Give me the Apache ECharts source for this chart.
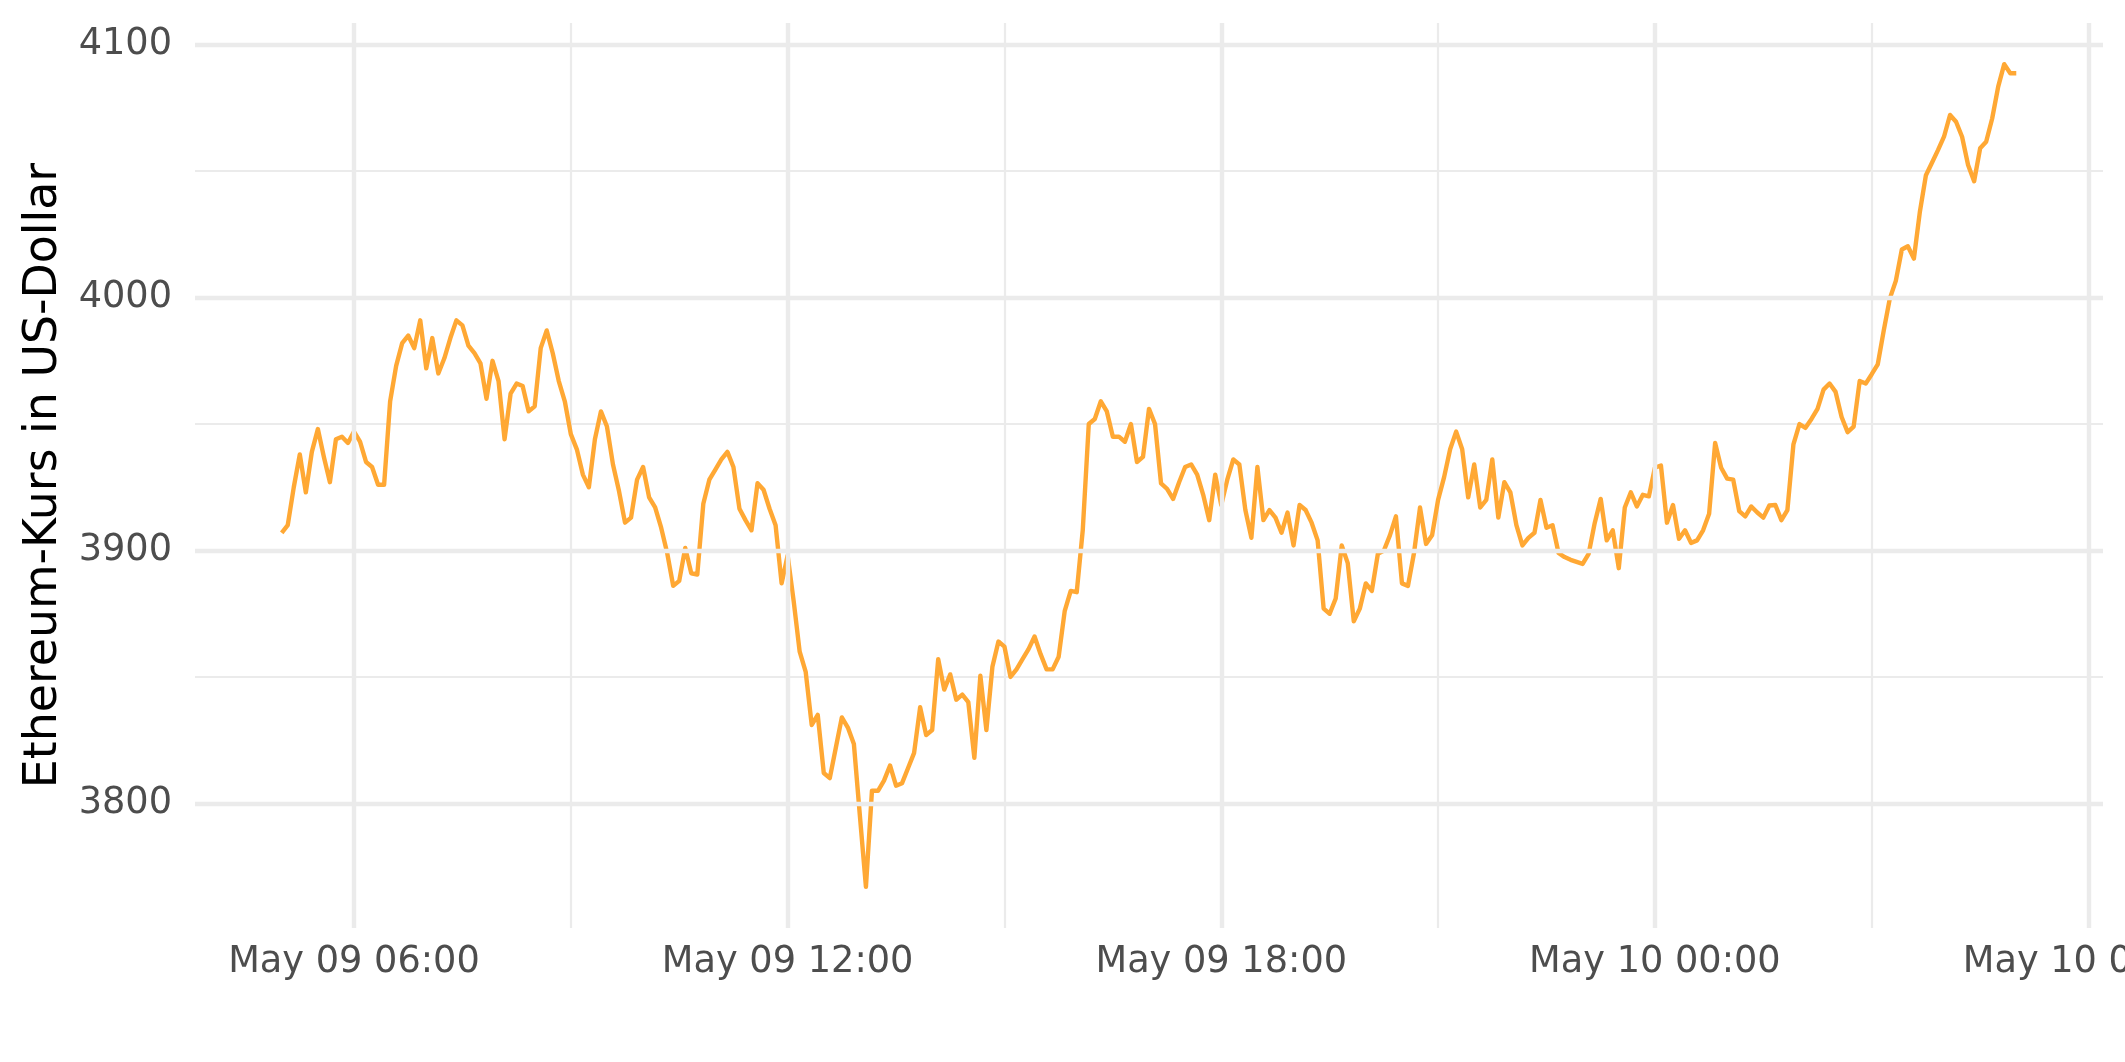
<!DOCTYPE html>
<html>
<head>
<meta charset="utf-8">
<script src="https://cdn.jsdelivr.net/npm/echarts@6/dist/echarts.min.js"></script>
<style>
html,body{margin:0;padding:0;background:#ffffff;}
#chart{width:2125px;height:1062px;}
</style>
</head>
<body>
<div id="chart"></div>
<script>
// Time base: first observation May 09 05:00, one price every 5 minutes (hours counted from May 09 00:00)
const startHour = 5;
const stepMinutes = 5;

// Ethereum price in US dollars
const prices = [
  3907, 3910, 3925, 3938, 3923, 3939, 3948, 3937, 3927, 3944,
  3945, 3942.5, 3947, 3943, 3935, 3933, 3926, 3926, 3959, 3973,
  3982, 3985, 3980, 3991, 3972, 3984, 3970, 3976, 3984, 3991,
  3989, 3981, 3978, 3974, 3960, 3975, 3967, 3944, 3962, 3966,
  3965, 3955, 3957, 3980, 3987, 3978, 3967, 3959, 3946, 3940,
  3930, 3925, 3944, 3955, 3949, 3934, 3923.5, 3911, 3913, 3928,
  3933, 3921, 3917, 3909, 3899, 3886, 3888, 3901, 3891, 3890.5,
  3918.5, 3928, 3932, 3936, 3939, 3933, 3916.5, 3912, 3908, 3926.6,
  3924, 3916.5, 3910, 3887, 3898, 3880, 3860, 3852, 3831, 3835,
  3812, 3810, 3822, 3834, 3830, 3823.5, 3795, 3767, 3805, 3805,
  3809, 3815, 3807, 3808, 3814, 3820, 3838, 3827, 3829, 3857,
  3845, 3851, 3841, 3843, 3840, 3818, 3850.5, 3829, 3854, 3864,
  3862, 3850, 3853, 3857, 3861, 3866, 3859, 3853, 3853, 3858,
  3876, 3884, 3883.5, 3908, 3950, 3952, 3959, 3955, 3945, 3945,
  3943, 3950, 3935, 3937, 3956, 3950, 3926.5, 3924.4, 3920.4, 3927,
  3933, 3934, 3930, 3922, 3912, 3930, 3918, 3928, 3936, 3934,
  3916, 3905, 3933, 3912, 3916, 3913, 3907, 3915, 3902, 3918,
  3916, 3911, 3904, 3877, 3875, 3881, 3902, 3895, 3872, 3877,
  3887, 3884, 3898.7, 3900, 3906, 3913.5, 3887, 3886, 3899, 3917,
  3902.6, 3906, 3920, 3929, 3940, 3947, 3940, 3921, 3934, 3917,
  3920, 3936, 3913, 3927, 3923, 3910, 3902, 3905, 3907, 3920,
  3909, 3910, 3899, 3897.4, 3896.3, 3895.5, 3894.7, 3898.7, 3910.8, 3920.4,
  3904, 3908, 3893, 3917, 3923, 3917.4, 3922, 3921.4, 3932.7, 3933.6,
  3911, 3918, 3904.6, 3908, 3903, 3904, 3908, 3914.5, 3942.5, 3932.7,
  3928.4, 3928, 3915.6, 3913.5, 3917.4, 3915, 3913, 3917.8, 3918, 3912,
  3916, 3942, 3950, 3948.5, 3952, 3956, 3963.6, 3966, 3962.7, 3952.8,
  3946.8, 3949, 3967, 3966, 3969.7, 3973.6, 3987, 3999.6, 4006.6, 4019,
  4020.3, 4015.4, 4034, 4048.4, 4053.3, 4058.3, 4063.6, 4072.2, 4069.5, 4063.6,
  4052.4, 4046, 4059, 4061.6, 4070.8, 4083.4, 4092.3, 4088.7, 4088.7
];

// x-axis tick positions (hours from May 09 00:00) and their labels
const xTickHours = [6, 12, 18, 24, 30];
const xTickLabels = ['May 09 06:00', 'May 09 12:00', 'May 09 18:00', 'May 10 00:00', 'May 10 06:00'];
// y-axis major ticks
const yTickValues = [3800, 3900, 4000, 4100];
const yAxisTitle = 'Ethereum-Kurs in US-Dollar';

// ---- build chart ----
const seriesData = prices.map((v, i) => [startHour + i * stepMinutes / 60, v]);
const xs = seriesData.map(d => d[0]);
const xMinData = Math.min(...xs), xMaxData = Math.max(...xs);
const yMinData = Math.min(...prices), yMaxData = Math.max(...prices);
const xPad = (xMaxData - xMinData) * 0.05;
const yPad = (yMaxData - yMinData) * 0.05;

const FONT = 'DejaVu Sans';
const GRID = '#ebebeb';

const chart = echarts.init(document.getElementById('chart'), null, {renderer: 'canvas'});
chart.setOption({
  animation: false,
  backgroundColor: '#ffffff',
  grid: {left: 195, right: 22, top: 23, bottom: 134, containLabel: false, outerBoundsMode: 'none'},
  xAxis: {
    type: 'value',
    min: xMinData - xPad,
    max: xMaxData + xPad,
    minInterval: 3,
    maxInterval: 3,
    axisLine: {show: false},
    axisTick: {show: false},
    splitLine: {show: true, showMinLine: false, showMaxLine: false, lineStyle: {color: GRID, width: 2.2}},
    axisLabel: {
      show: true,
      showMinLabel: false,
      showMaxLabel: false,
      hideOverlap: false,
      margin: 16,
      fontFamily: FONT,
      fontSize: 36.7,
      color: '#4d4d4d',
      formatter: function (v) {
        for (let k = 0; k < xTickHours.length; k++) {
          if (Math.abs(xTickHours[k] - v) < 1e-6) return xTickLabels[k];
        }
        return '';
      }
    }
  },
  yAxis: {
    type: 'value',
    min: yMinData - yPad,
    max: yMaxData + yPad,
    minInterval: 50,
    maxInterval: 50,
    name: yAxisTitle,
    nameLocation: 'middle',
    nameRotate: 90,
    nameGap: 128,
    nameTextStyle: {fontFamily: FONT, fontSize: 45.8, color: '#000000'},
    axisLine: {show: false},
    axisTick: {show: false},
    splitLine: {show: true, showMinLine: false, showMaxLine: false, lineStyle: {color: GRID, width: 2.2}},
    axisLabel: {
      show: true,
      showMinLabel: false,
      showMaxLabel: false,
      margin: 23,
      fontFamily: FONT,
      fontSize: 36.7,
      color: '#4d4d4d',
      formatter: function (v) {
        for (let k = 0; k < yTickValues.length; k++) {
          if (Math.abs(yTickValues[k] - v) < 1e-6) return String(yTickValues[k]);
        }
        return '';
      }
    }
  },
  series: [
    {
      // invisible carrier for the major grid lines
      type: 'line',
      z: 1,
      silent: true,
      data: seriesData,
      showSymbol: false,
      lineStyle: {opacity: 0},
      markLine: {
        silent: true,
        symbol: ['none', 'none'],
        label: {show: false},
        lineStyle: {color: GRID, width: 4.4, type: 'solid'},
        emphasis: {disabled: true},
        data: xTickHours.map(h => ({xAxis: h})).concat(yTickValues.map(v => ({yAxis: v})))
      }
    },
    {
      name: 'ETH',
      type: 'line',
      z: 3,
      data: seriesData,
      showSymbol: false,
      smooth: false,
      lineStyle: {color: '#ffa834', width: 4.4, join: 'round', cap: 'butt'},
      itemStyle: {color: '#ffa834'}
    }
  ]
});
</script>
</body>
</html>
